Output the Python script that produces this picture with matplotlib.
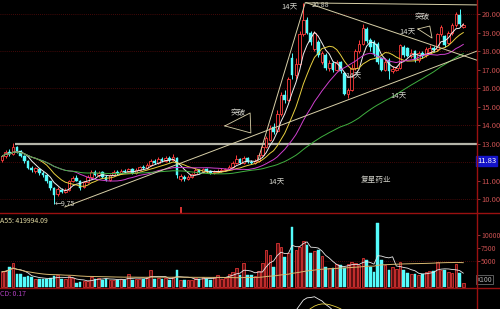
import numpy as np
import pandas as pd
import matplotlib
matplotlib.use("Agg")
import matplotlib.pyplot as plt

plt.rcParams['font.family'] = ['Noto Sans CJK SC', 'DejaVu Sans']

# daily bars, oldest first
opens = [12.10, 12.30, 12.55, 12.45, 12.80, 12.60, 12.35,
         12.05, 11.70, 11.50, 11.60, 11.40, 11.30, 10.95, 10.60, 10.25,
         10.50, 10.40, 10.50, 10.95, 11.15, 11.00, 10.65, 10.90, 11.20,
         11.45, 11.30, 11.45, 11.20, 11.05, 11.30, 11.45, 11.40, 11.50, 11.45, 11.60, 11.40, 11.55, 11.75, 11.65, 11.85,
         12.05, 11.95, 12.15, 12.05, 12.20, 12.10, 12.20,
         11.10, 11.20, 11.10, 11.20, 11.35, 11.55, 11.45, 11.60, 11.50, 11.40, 11.45, 11.50, 11.55,
         11.60, 11.75, 11.95, 12.15, 11.95, 12.20, 12.00, 11.95, 12.05,
         12.40, 12.80, 13.20, 13.90, 13.65, 14.60, 15.60, 15.35, 17.60, 16.70, 17.30, 18.90, 19.70,
         19.00, 18.10, 18.50, 17.40, 17.80, 17.10, 17.35, 16.95, 17.40, 16.80, 15.70, 15.90, 17.10, 18.00,
         18.40, 19.20, 18.60, 18.50, 18.40, 17.60, 17.00, 17.50, 16.90, 16.95, 17.10, 18.20, 18.15, 17.75,
         18.00, 17.50, 17.90, 17.80, 17.95, 18.15, 18.10, 18.90, 18.80, 18.45, 18.95, 19.40, 19.95, 19.30]
closes = [12.30, 12.55, 12.45, 12.80, 12.60, 12.35, 12.05,
          11.70, 11.55, 11.65, 11.40, 11.30, 10.95, 10.60, 10.20, 10.55,
          10.40, 10.50, 10.95, 11.15, 11.00, 10.60, 10.90, 11.20, 11.45,
          11.30, 11.40, 11.20, 11.05, 11.30, 11.45, 11.40, 11.50, 11.45, 11.60, 11.40, 11.55, 11.75, 11.65, 11.85, 12.05,
          11.95, 12.15, 12.05, 12.20, 12.10, 12.25, 11.30,
          11.25, 11.10, 11.20, 11.35, 11.55, 11.45, 11.60, 11.50, 11.40, 11.45, 11.50, 11.55, 11.60,
          11.75, 11.95, 12.15, 11.95, 12.20, 12.00, 11.95, 12.05, 12.40,
          12.80, 13.30, 13.85, 13.60, 14.60, 15.60, 15.35, 16.50, 16.70, 17.30, 18.90, 19.70, 19.00,
          18.50, 19.00, 17.80, 17.90, 17.10, 17.35, 16.95, 17.40, 16.90, 15.70, 15.90, 17.10, 18.00, 18.40,
          19.25, 18.55, 18.20, 17.85, 17.40, 17.00, 17.40, 16.90, 17.05, 17.10, 18.30, 17.80, 17.75, 17.90,
          17.50, 17.90, 17.75, 18.10, 18.15, 18.05, 18.90, 19.30, 18.30, 19.00, 19.40, 20.00, 19.45, 19.40]
highs = [12.40, 12.65, 12.70, 13.05, 12.85, 12.65, 12.40,
         12.10, 11.80, 11.75, 11.70, 11.50, 11.35, 11.00, 10.65, 10.65,
         10.60, 10.60, 11.05, 11.25, 11.30, 11.05, 11.00, 11.30, 11.55,
         11.55, 11.50, 11.50, 11.30, 11.35, 11.55, 11.55, 11.60, 11.60, 11.70, 11.65, 11.65, 11.80, 11.85, 11.95, 12.15,
         12.15, 12.25, 12.25, 12.30, 12.30, 12.45, 12.25,
         11.35, 11.30, 11.30, 11.40, 11.65, 11.60, 11.70, 11.65, 11.55, 11.55, 11.60, 11.65, 11.70,
         11.85, 12.05, 12.40, 12.20, 12.30, 12.25, 12.10, 12.15, 12.50,
         12.90, 13.40, 14.00, 14.10, 14.80, 15.80, 15.90, 16.60, 17.90, 17.60, 19.10, 20.60, 19.85,
         19.10, 19.10, 18.60, 18.00, 17.90, 17.50, 17.45, 17.50, 17.45, 16.85, 16.00, 17.30, 18.10, 18.60,
         19.45, 19.30, 18.70, 18.60, 18.50, 17.70, 17.60, 17.60, 17.20, 17.20, 18.40, 18.30, 18.20, 18.10,
         18.05, 18.00, 18.00, 18.20, 18.30, 18.25, 19.00, 19.40, 18.85, 19.10, 19.50, 20.10, 20.25, 19.50]
lows = [12.00, 12.20, 12.35, 12.40, 12.50, 12.25, 11.95,
        11.60, 11.45, 11.40, 11.30, 11.20, 10.85, 10.50, 9.75, 10.15,
        10.30, 10.35, 10.45, 10.90, 10.95, 10.50, 10.60, 10.85, 11.10,
        11.25, 11.20, 11.15, 11.00, 11.00, 11.25, 11.30, 11.35, 11.40, 11.40, 11.35, 11.35, 11.50, 11.60, 11.60, 11.80,
        11.90, 11.90, 12.00, 12.00, 12.00, 12.05, 11.15,
        11.00, 11.00, 11.05, 11.15, 11.30, 11.40, 11.40, 11.40, 11.35, 11.35, 11.40, 11.45, 11.50,
        11.55, 11.70, 11.90, 11.90, 11.90, 11.95, 11.90, 11.90, 12.00,
        12.35, 12.75, 13.15, 13.50, 13.60, 14.50, 15.20, 15.30, 16.50, 16.50, 17.20, 18.80, 18.90,
        18.30, 18.00, 17.70, 17.30, 17.00, 16.90, 16.85, 16.90, 16.80, 15.60, 15.45, 15.85, 17.00, 17.90,
        18.30, 18.45, 18.00, 17.75, 17.30, 16.90, 16.90, 16.50, 16.80, 16.90, 17.05, 17.70, 17.65, 17.60,
        17.40, 17.40, 17.60, 17.70, 17.90, 17.95, 18.00, 18.80, 18.20, 18.40, 18.85, 19.30, 19.35, 19.25]
# volume in lots of 100 shares
volumes = [3000, 3200, 3900, 4700, 2600, 2500, 2000, 2100, 2000, 1700, 1700, 1600, 1700, 1900, 2100, 2300,
           1700, 1600, 2100, 1800, 900, 1100, 1300, 1200, 2000,
           1600, 1800, 1500, 1700, 1500, 1500, 1400, 1700, 1500, 2600, 1500, 1700, 1600, 1700, 2000, 3400,
           1700, 1800, 1650, 1800, 1500, 2000, 3400,
           1500, 1500, 1400, 1500, 1800, 1600, 2000, 1700, 1500, 2000, 2400, 1700, 1900,
           2600, 3000, 3800, 2400, 4700, 2400, 2300, 2200, 3200,
           4700, 7200, 6200, 4000, 8500, 7800, 5900, 6500, 11600, 7200, 7800, 8800, 8200,
           6500, 7000, 7200, 6000, 4000, 3800, 3700, 4400, 4300, 3800, 4500, 4800, 4600, 4300,
           5700, 5300, 4000, 3000, 12400, 5300, 4200, 3400, 4000, 3600, 4800, 3300, 2800, 2500,
           2600, 2400, 2600, 3000, 3100, 3200, 4800, 3400, 3300, 3000, 2700, 4500, 2700, 800]

price_ticks = [20, 19, 18, 17, 16, 15, 14, 13, 11, 10]
vol_ticks = [10000, 7500, 5000]
last_price = "11.83"

# hand drawn lines on the chart: (x0, p0, x1, p1) in bar index / price
trend_lines = [(16.9, 9.57, 128.0, 18.02),
               (81.7, 20.60, 128.0, 20.49),
               (81.7, 20.62, 128.0, 17.48),
               (68.8, 12.10, 81.5, 20.60)]
breakout_marks = [[(59.9, 13.95), (66.7, 14.65), (66.9, 13.57)],
                  [(111.8, 19.19), (115.0, 19.35), (115.6, 18.70)]]
notes = [("14天", 77.4, 20.35), ("14天", 109.1, 19.0), ("14天", 106.7, 15.55),
         ("14天", 94.4, 16.60), ("14天", 73.9, 10.90), ("复星药业", 100.5, 11.05),
         ("突破", 63.6, 14.65), ("突破", 113.0, 19.85)]

BG = "black"
RED = "#ff3c3c"
CYAN = "#54fcfc"
GRID = "#5a0c0c"
AXRED = "#9a1010"
LBL = "#c85050"
LINE = "#d8d0a8"

n = len(closes)
idx = np.arange(n)
o = np.array(opens); c = np.array(closes)
h = np.array(highs); l = np.array(lows); v = np.array(volumes)
up = c >= o
dn = ~up

fig = plt.figure(figsize=(5, 3.09), dpi=100, facecolor=BG)
W = 477 / 500
ax = fig.add_axes([0, 1 - 213 / 309, W, 213 / 309], facecolor=BG)
axv = fig.add_axes([0, 1 - 288 / 309, W, 75 / 309], facecolor=BG, sharex=ax)
axm = fig.add_axes([0, 0, W, 21 / 309], facecolor=BG, sharex=ax)

xlim = (-2 / 3.72, 475 / 3.72)
for a in (ax, axv, axm):
    a.set_xlim(*xlim)
    for s in a.spines.values():
        s.set_visible(False)
    a.tick_params(axis='x', bottom=False, labelbottom=False)

# ---- price panel
ax.set_ylim(20 - 199 / 18.5, 20 + 14 / 18.5)
for p in [20, 18, 16, 14, 12, 10]:
    ax.axhline(p, color=GRID, lw=0.6, ls=(0, (1, 1.5)), zorder=0)
ax.hlines(13.0, 3.5, xlim[1], color="#b4b4a8", lw=1.6, zorder=1)

cols = np.where(up, RED, CYAN)
ax.vlines(idx, l, h, colors=cols, lw=0.7, zorder=3)
ax.bar(idx[up], (c - o)[up], bottom=o[up], width=0.72, color=BG, edgecolor=RED, lw=0.6, zorder=4)
ax.bar(idx[dn], (o - c)[dn], bottom=c[dn], width=0.72, color=CYAN, edgecolor=CYAN, lw=0.3, zorder=4)

cs = pd.Series(c)
for win, col in [(5, "#f0f0f0"), (10, "#e8d040"), (20, "#d040d0"), (50, "#40b040")]:
    ax.plot(idx, cs.rolling(win, min_periods=1).mean(), color=col, lw=0.7, zorder=5)

for x0, p0, x1, p1 in trend_lines:
    ax.plot([x0, x1], [p0, p1], color=LINE, lw=0.7, zorder=6)
for tri in breakout_marks:
    xs = [t[0] for t in tri] + [tri[0][0]]
    ps = [t[1] for t in tri] + [tri[0][1]]
    ax.plot(xs, ps, color=LINE, lw=0.6, zorder=6)
for txt, x, p in notes:
    ax.text(x, p, txt, color="#d0d0c8", fontsize=5.5, ha='center', va='center', zorder=7)

low_i = int(np.argmin(l))
ax.text(low_i + 0.3, l[low_i], "←9.75", color="#d0d0c8", fontsize=5, ha='left', va='center')
high_i = int(np.argmax(h))
ax.text(high_i + 2.3, h[high_i] - 0.12, "20.88", color="#d0d0c8", fontsize=5, ha='left', va='center')
ax.plot([48], [9.42], marker='|', color=RED, ms=4, mew=1.2, clip_on=False, zorder=6)

ax.yaxis.tick_right()
ax.set_yticks(price_ticks)
ax.set_yticklabels([f"{p:.2f}" for p in price_ticks])
ax.tick_params(axis='y', colors=LBL, labelsize=5.5, length=2, width=0.5, pad=1.5)
ax.text(1.0, 12.05, last_price, transform=ax.get_yaxis_transform(), color="white",
        fontsize=5.5, ha='left', va='center',
        bbox=dict(boxstyle="square,pad=0.15", fc="#1414c8", ec="#1414c8"), clip_on=False)

# ---- volume panel
axv.set_ylim(-100, 14230)
axv.axhline(5000, color=GRID, lw=0.6, ls=(0, (1, 1.5)), zorder=0)
axv.bar(idx[up], v[up], width=0.72, color="#5a1010", edgecolor=RED, lw=0.5, zorder=3)
axv.bar(idx[dn], v[dn], width=0.72, color=CYAN, edgecolor=CYAN, lw=0.3, zorder=3)
vs = pd.Series(v)
axv.plot(idx, vs.rolling(5, min_periods=1).mean(), color="#e8e8e8", lw=0.6, zorder=4)
axv.plot(idx, vs.rolling(60, min_periods=1).mean(), color="#d8b870", lw=0.7, zorder=4)
axv.yaxis.tick_right()
axv.set_yticks(vol_ticks)
axv.set_yticklabels([str(t) for t in vol_ticks])
axv.tick_params(axis='y', colors=LBL, labelsize=5, length=2, width=0.5, pad=1)
axv.text(1.0, 1500, "X100", transform=axv.get_yaxis_transform(), color="#b0b0b0",
         fontsize=5, ha='left', va='center', clip_on=False,
         bbox=dict(boxstyle="square,pad=0.1", fc=BG, ec="#808080", lw=0.5))
axv.text(0.0, 0.95, "A55: 419994.09", transform=axv.transAxes, color="#e0d8a0",
         fontsize=5, ha='left', va='top')

# ---- macd panel
ema12 = cs.ewm(span=12, adjust=False).mean()
ema26 = cs.ewm(span=26, adjust=False).mean()
dif = ema12 - ema26
dea = dif.ewm(span=9, adjust=False).mean()
top = dif.max()
axm.set_ylim(0.72 * top, 1.2 * top)
axm.plot(idx, dif, color="#f0f0f0", lw=0.6)
axm.plot(idx, dea, color="#e8d040", lw=0.6)
axm.set_yticks([])
axm.text(0.0, 0.9, "CD: 0.17", transform=axm.transAxes, color="#b040c0", fontsize=5, ha='left', va='top')

# panel frames
fig.add_artist(plt.Line2D([0, 1], [1 - 213 / 309] * 2, color=AXRED, lw=1.0))
fig.add_artist(plt.Line2D([0, 1], [1 - 288 / 309] * 2, color=AXRED, lw=1.0))
fig.add_artist(plt.Line2D([W, W], [0, 1], color=AXRED, lw=1.0))

fig.savefig("out.png", dpi=100, facecolor=BG)
